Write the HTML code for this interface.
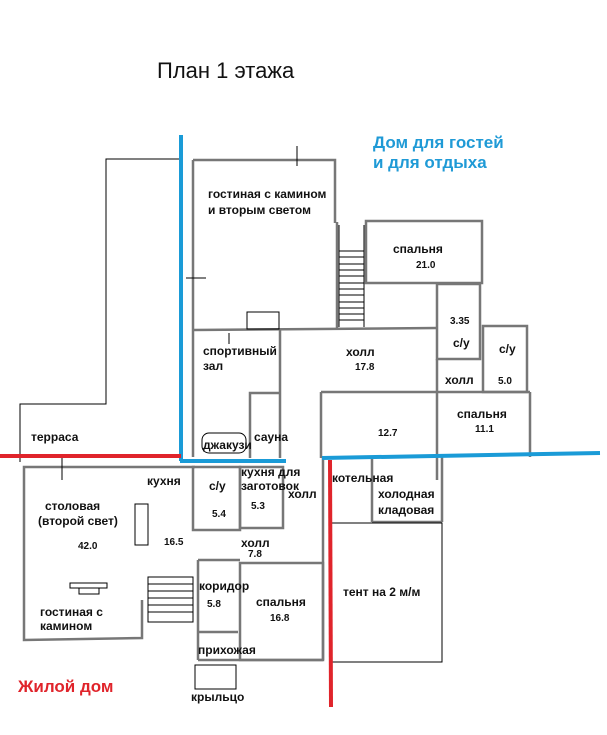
<!DOCTYPE html>
<html><head><meta charset="utf-8"><style>
html,body{margin:0;padding:0;background:#fff}
svg{display:block}
text{font-family:"Liberation Sans","DejaVu Sans",sans-serif;fill:#111}
.b{font-weight:bold;font-size:12px}
.n{font-weight:bold;font-size:10px}
</style></head><body>
<svg width="607" height="735" viewBox="0 0 607 735" xmlns="http://www.w3.org/2000/svg">
<rect width="607" height="735" fill="#fff"/>
<text x="157" y="78" style="font-size:22px">План 1 этажа</text>
<text x="373" y="148" style="font-size:17px;font-weight:bold;fill:#1f9ad6">Дом для гостей</text>
<text x="373" y="168" style="font-size:17px;font-weight:bold;fill:#1f9ad6">и для отдыха</text>

<!-- terrace outline -->
<polyline points="181,159 106,159 106,404 20,404 20,462" fill="none" stroke="#000" stroke-width="1"/>

<g fill="none" stroke="#777" stroke-width="2.5">
<!-- guest house -->
<polyline points="193,160 335,160 335,223"/>
<line x1="193" y1="160" x2="193" y2="457"/>
<line x1="337" y1="222" x2="337" y2="328"/>
<rect x="366" y="221" width="116" height="62"/>
<rect x="437" y="284" width="43" height="75"/>
<rect x="483" y="326" width="44" height="66"/>
<line x1="193" y1="330" x2="437" y2="328"/>
<line x1="280" y1="330" x2="280" y2="458"/>
<line x1="321" y1="392" x2="530" y2="392"/>
<line x1="321" y1="392" x2="321" y2="458"/>
<line x1="437" y1="359" x2="437" y2="480"/>
<line x1="530" y1="392" x2="530" y2="457"/>
<polyline points="250,458 250,393 280,393"/>
<!-- main house -->
<polyline points="195,467 24,467 24,640 142,638 142,600"/>
<rect x="193" y="467" width="47" height="63"/>
<rect x="240" y="467" width="43" height="61"/>
<line x1="323" y1="458" x2="323" y2="660"/>
<line x1="198" y1="560" x2="198" y2="660"/>
<line x1="198" y1="560" x2="240" y2="560"/>
<line x1="198" y1="632" x2="238" y2="632"/>
<rect x="240" y="563" width="83" height="97"/>
<line x1="198" y1="660" x2="323" y2="660"/>
<polyline points="372,522 372,457"/>
<line x1="442" y1="457" x2="442" y2="522"/>
<line x1="372" y1="522" x2="442" y2="522"/>
</g>

<g fill="none" stroke="#000" stroke-width="1">
<!-- stairs guest -->
<line x1="339" y1="225" x2="339" y2="327"/>
<line x1="364" y1="225" x2="364" y2="327"/>
<line x1="339" y1="251" x2="364" y2="251"/>
<line x1="339" y1="257" x2="364" y2="257"/>
<line x1="339" y1="264" x2="364" y2="264"/>
<line x1="339" y1="270" x2="364" y2="270"/>
<line x1="339" y1="276" x2="364" y2="276"/>
<line x1="339" y1="283" x2="364" y2="283"/>
<line x1="339" y1="289" x2="364" y2="289"/>
<line x1="339" y1="295" x2="364" y2="295"/>
<line x1="339" y1="302" x2="364" y2="302"/>
<line x1="339" y1="308" x2="364" y2="308"/>
<line x1="339" y1="314" x2="364" y2="314"/>
<line x1="339" y1="320" x2="364" y2="320"/>
<rect x="247" y="312" width="32" height="17"/>
<rect x="202" y="433" width="44" height="20" rx="7"/>
<line x1="297" y1="146" x2="297" y2="166"/>
<line x1="186" y1="278" x2="206" y2="278"/>
<line x1="229" y1="333" x2="229" y2="344"/>
<!-- stairs main -->
<rect x="148" y="577" width="45" height="45"/>
<line x1="148" y1="584" x2="193" y2="584"/>
<line x1="148" y1="591" x2="193" y2="591"/>
<line x1="148" y1="598" x2="193" y2="598"/>
<line x1="148" y1="605" x2="193" y2="605"/>
<line x1="148" y1="612" x2="193" y2="612"/>
<rect x="135" y="504" width="13" height="41"/>
<rect x="70" y="583" width="37" height="5"/>
<rect x="79" y="588" width="20" height="6"/>
<!-- tent -->
<polyline points="332,523 442,523 442,662 332,662"/>
<rect x="195" y="665" width="41" height="24"/>
<line x1="62" y1="458" x2="62" y2="480"/>
</g>

<!-- colored lines -->
<line x1="181" y1="135" x2="181" y2="461" stroke="#1a9bd7" stroke-width="4"/>
<line x1="180" y1="461" x2="286" y2="461" stroke="#1a9bd7" stroke-width="4"/>
<line x1="322" y1="458" x2="600" y2="453" stroke="#1a9bd7" stroke-width="4"/>
<line x1="0" y1="456" x2="181" y2="456" stroke="#e0242b" stroke-width="4"/>
<line x1="330" y1="460" x2="331" y2="707" stroke="#e0242b" stroke-width="4"/>

<text class="b" x="208" y="198">гостиная с камином</text>
<text class="b" x="208" y="214">и вторым светом</text>
<text class="b" x="393" y="253">спальня</text>
<text class="n" x="416" y="268">21.0</text>
<text class="n" x="450" y="324">3.35</text>
<text class="b" x="453" y="347">с/у</text>
<text class="b" x="499" y="353">с/у</text>
<text class="n" x="498" y="384">5.0</text>
<text class="b" x="203" y="355">спортивный</text>
<text class="b" x="203" y="370">зал</text>
<text class="b" x="346" y="356">холл</text>
<text class="n" x="355" y="370">17.8</text>
<text class="b" x="445" y="384">холл</text>
<text class="b" x="457" y="418">спальня</text>
<text class="n" x="475" y="432">11.1</text>
<text class="n" x="378" y="436">12.7</text>
<text class="b" x="31" y="441">терраса</text>
<text class="b" x="203" y="449">джакузи</text>
<text class="b" x="254" y="441">сауна</text>
<text class="b" x="147" y="485">кухня</text>
<text class="b" x="209" y="490">с/у</text>
<text class="n" x="212" y="517">5.4</text>
<text class="b" x="241" y="476">кухня для</text>
<text class="b" x="241" y="490">заготовок</text>
<text class="n" x="251" y="509">5.3</text>
<text class="b" x="288" y="498">холл</text>
<text class="b" x="332" y="482">котельная</text>
<text class="b" x="378" y="498">холодная</text>
<text class="b" x="378" y="514">кладовая</text>
<text class="b" x="45" y="510">столовая</text>
<text class="b" x="38" y="525">(второй свет)</text>
<text class="n" x="78" y="549">42.0</text>
<text class="n" x="164" y="545">16.5</text>
<text class="b" x="241" y="547">холл</text>
<text class="n" x="248" y="557">7.8</text>
<text class="b" x="199" y="590">коридор</text>
<text class="n" x="207" y="607">5.8</text>
<text class="b" x="256" y="606">спальня</text>
<text class="n" x="270" y="621">16.8</text>
<text class="b" x="343" y="596">тент на 2 м/м</text>
<text class="b" x="40" y="616">гостиная с</text>
<text class="b" x="40" y="630">камином</text>
<text class="b" x="198" y="654">прихожая</text>
<text class="b" x="191" y="701">крыльцо</text>
<text x="18" y="692" style="font-size:17px;font-weight:bold;fill:#e0242b">Жилой дом</text>
</svg>
</body></html>
